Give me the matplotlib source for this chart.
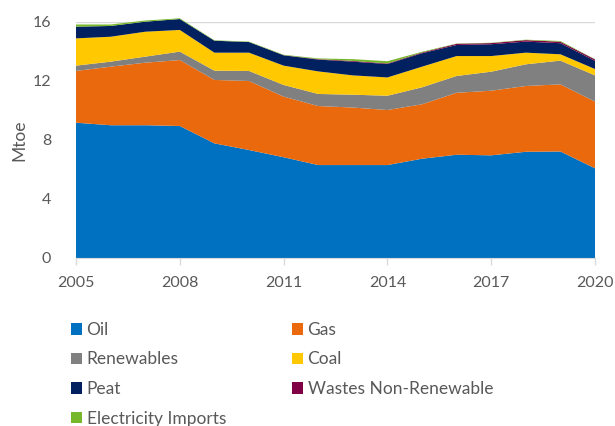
import numpy as np
import matplotlib.pyplot as plt
from matplotlib.patches import Patch

# Primary energy by fuel, Mtoe
years = list(range(2005, 2021))
oil = [9.17, 9.0, 9.0, 8.95, 7.77, 7.32, 6.83, 6.3, 6.3, 6.3, 6.73, 7.0, 6.96, 7.2, 7.22, 6.08]
gas = [3.51, 3.97, 4.24, 4.47, 4.3, 4.68, 4.11, 4.0, 3.9, 3.73, 3.69, 4.2, 4.38, 4.46, 4.55, 4.52]
renewables = [0.36, 0.34, 0.41, 0.57, 0.63, 0.68, 0.79, 0.82, 0.87, 0.97, 1.15, 1.14, 1.29, 1.47, 1.61, 1.78]
coal = [1.85, 1.69, 1.69, 1.47, 1.22, 1.24, 1.31, 1.53, 1.31, 1.24, 1.4, 1.35, 1.06, 0.79, 0.43, 0.43]
peat = [0.79, 0.73, 0.68, 0.74, 0.81, 0.72, 0.7, 0.8, 0.93, 0.91, 0.91, 0.75, 0.8, 0.75, 0.75, 0.55]
wastes = [0.0, 0.0, 0.0, 0.0, 0.0, 0.0, 0.01, 0.03, 0.05, 0.04, 0.05, 0.08, 0.08, 0.1, 0.1, 0.1]
elec = [0.15, 0.1, 0.08, 0.05, 0.03, 0.03, 0.03, 0.05, 0.12, 0.15, 0.05, 0.02, 0.02, 0.03, 0.05, 0.02]

labels = ['Oil', 'Gas', 'Renewables', 'Coal', 'Peat', 'Wastes Non-Renewable', 'Electricity Imports']
colors = ['#0070C0', '#E9690C', '#808080', '#FFC800', '#002060', '#7F0045', '#77B82A']

plt.rcParams['font.family'] = ['Lato', 'DejaVu Sans']
txt = '#595959'

fig = plt.figure(figsize=(6.15, 4.26), dpi=100)
ax = fig.add_axes([0.1236, 0.3944, 0.8439, 0.554])

polys = ax.stackplot(years, oil, gas, renewables, coal, peat, wastes, elec,
                     colors=colors, linewidth=0, zorder=2)
for p in polys:
    p.set_clip_on(False)  # peak in 2008 pokes above the 16 line

ax.set_xlim(2005, 2020)
ax.set_ylim(0, 16)
ax.set_yticks([0, 4, 8, 12, 16])
ax.set_xticks(range(2005, 2021, 3))
ax.grid(axis='y', color='#D9D9D9', linewidth=1, zorder=0)
ax.set_axisbelow(True)
for s in ['top', 'right', 'left']:
    ax.spines[s].set_visible(False)
ax.spines['bottom'].set_color('#D9D9D9')
ax.tick_params(axis='x', colors='#D9D9D9', length=5, width=1, labelcolor=txt,
               labelsize=11.5, pad=8)
ax.tick_params(axis='y', length=0, labelcolor=txt, labelsize=11.5, pad=18)
ax.set_ylabel('Mtoe', color=txt, fontsize=12.5, labelpad=3.5)

# legend: column 1 then column 2
order = [0, 2, 4, 6, 1, 3, 5]
handles = [Patch(facecolor=colors[i], label=labels[i]) for i in order]
fig.legend(handles=handles, ncol=2, loc='upper left', bbox_to_anchor=(0.09, 0.281),
           frameon=False, fontsize=12.5, labelcolor=txt, handlelength=0.65,
           handleheight=0.65, handletextpad=0.25, columnspacing=3.8, labelspacing=0.78)

fig.savefig('out.png', dpi=100)
